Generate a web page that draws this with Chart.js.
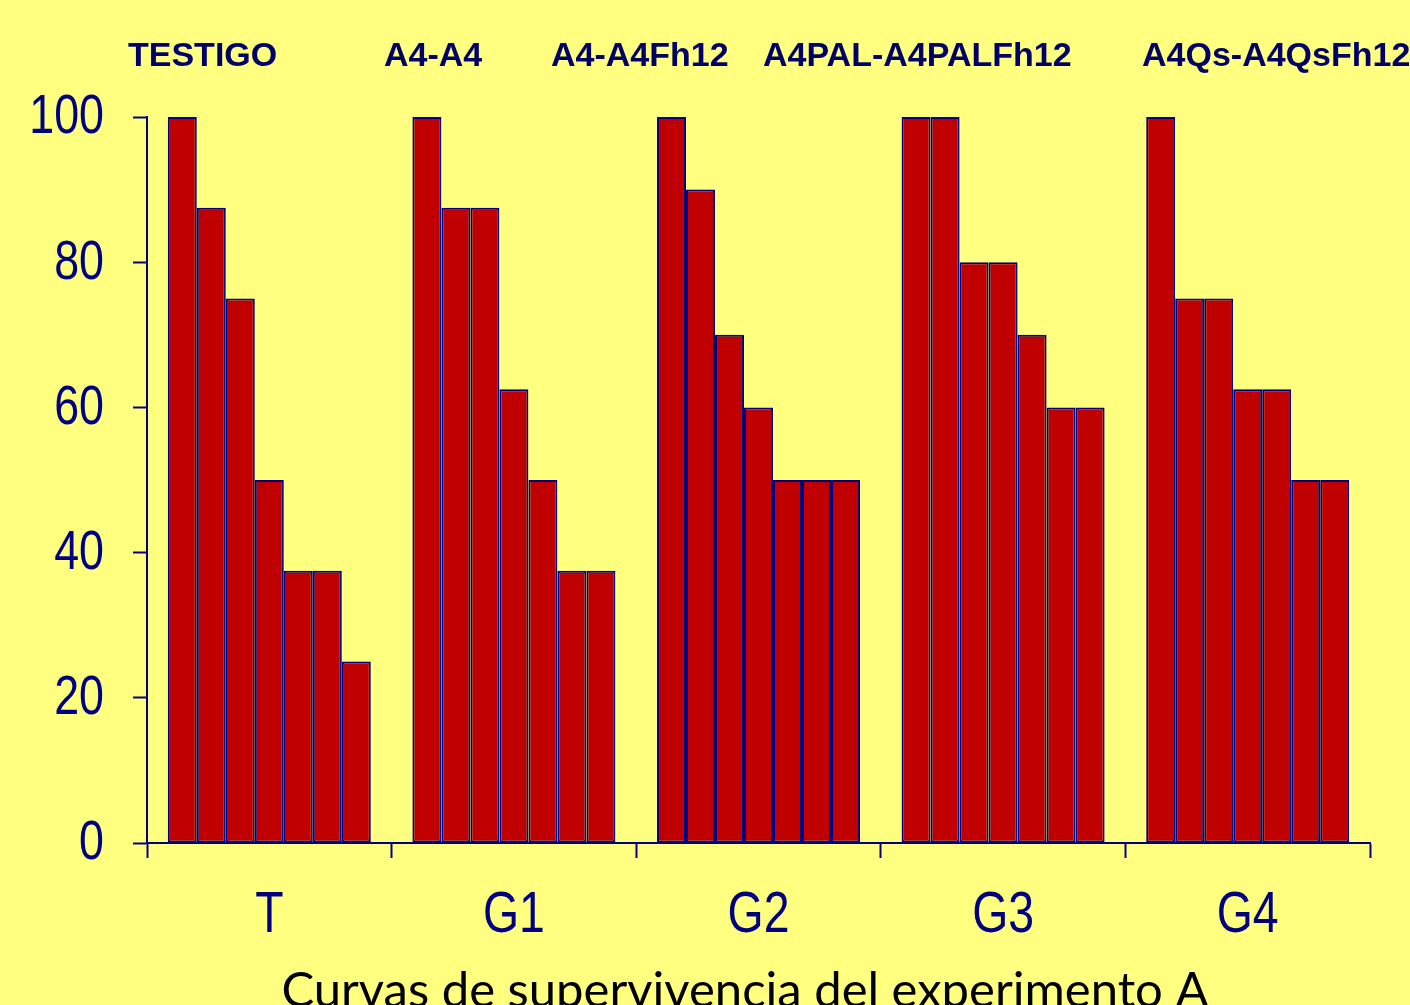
<!DOCTYPE html>
<html>
<head>
<meta charset="utf-8">
<script src="https://cdn.jsdelivr.net/npm/chart.js@4/dist/chart.umd.min.js"></script>
<style>
  html, body { margin: 0; padding: 0; background: #FFFF80; }
  #wrap { width: 1410px; height: 1005px; position: relative; }
</style>
</head>
<body>
<div id="wrap"><canvas id="chart"></canvas></div>
<script>
// groups on the x axis
const groups = ['T', 'G1', 'G2', 'G3', 'G4'];
// survival (%) for the 7 successive bars of each group
const survT  = [100, 87.5, 75, 50, 37.5, 37.5, 25];
const survG1 = [100, 87.5, 87.5, 62.5, 50, 37.5, 37.5];
const survG2 = [100, 90, 70, 60, 50, 50, 50];
const survG3 = [100, 100, 80, 80, 70, 60, 60];
const survG4 = [100, 75, 75, 62.5, 62.5, 50, 50];
const yTicks = [0, 20, 40, 60, 80, 100];
// treatment names above the groups
const treatmentNames = ['TESTIGO', 'A4-A4', 'A4-A4Fh12', 'A4PAL-A4PALFh12', 'A4Qs-A4QsFh12'];
const captionText = 'Curvas de supervivencia del experimento A';

// label placement (pixels), kept apart from the data
const treatmentX = [128, 384, 551, 763, 1142];
const treatmentBaseline = 66;

const navy = '#000080';
const barRed = '#C00000';
const narrow = 0.8; // horizontal squeeze to mimic a narrow sans face

const allGroups = [survT, survG1, survG2, survG3, survG4];
const datasets = [];
for (let i = 0; i < 7; i++) {
    datasets.push({
        label: 'bar ' + (i + 1),
        data: allGroups.map(g => g[i]),
        backgroundColor: barRed,
        borderColor: navy,
        borderWidth: 2,
        borderSkipped: false,
        barPercentage: 1.0,
        categoryPercentage: 0.83,
    });
}

function narrowText(ctx, text, x, y, align) {
    ctx.save();
    ctx.translate(x, y);
    ctx.scale(narrow, 1);
    ctx.textAlign = align;
    ctx.fillText(text, 0, 0);
    ctx.restore();
}

const textPlugin = {
    id: 'textPlugin',
    afterDraw(chart) {
        const ctx = chart.ctx;
        const xs = chart.scales.x;
        const ys = chart.scales.y;
        ctx.save();

        // axis tick labels
        ctx.fillStyle = navy;
        ctx.textBaseline = 'middle';
        ctx.font = '56px "Liberation Sans", Arial, sans-serif';
        yTicks.forEach(v => {
            narrowText(ctx, String(v), 104, ys.getPixelForValue(v) + 1, 'right');
        });
        ctx.font = '58px "Liberation Sans", Arial, sans-serif';
        groups.forEach((g, i) => {
            narrowText(ctx, g, xs.getPixelForValue(i), 916, 'center');
        });

        // treatment names
        ctx.fillStyle = '#000066';
        ctx.font = 'bold 34px "Liberation Sans", Arial, sans-serif';
        ctx.textAlign = 'left';
        ctx.textBaseline = 'alphabetic';
        treatmentNames.forEach((name, i) => {
            ctx.fillText(name, treatmentX[i], treatmentBaseline);
        });

        // caption
        ctx.fillStyle = '#000000';
        ctx.font = '49px Lato, "Open Sans", sans-serif';
        ctx.textAlign = 'center';
        ctx.fillText(captionText, 745, 1007);
        ctx.restore();
    }
};

const ctx = document.getElementById('chart').getContext('2d');
new Chart(ctx, {
    type: 'bar',
    data: {
        labels: groups,
        datasets: datasets,
    },
    options: {
        responsive: true,
        maintainAspectRatio: false,
        animation: false,
        layout: {
            padding: { left: 0, right: 40, top: 117, bottom: 0 },
        },
        plugins: {
            legend: { display: false },
            tooltip: { enabled: false },
        },
        scales: {
            x: {
                grid: {
                    display: true,
                    offset: true,
                    drawOnChartArea: false,
                    drawTicks: true,
                    tickLength: 15,
                    tickWidth: 2,
                    tickColor: navy,
                },
                border: { display: true, color: navy, width: 2 },
                ticks: { display: false },
                afterFit(scale) { scale.height = 162; },
            },
            y: {
                min: 0,
                max: 100,
                afterBuildTicks(scale) { scale.ticks = yTicks.map(v => ({ value: v })); },
                grid: {
                    display: true,
                    drawOnChartArea: false,
                    drawTicks: true,
                    tickLength: 14,
                    tickWidth: 2,
                    tickColor: navy,
                },
                border: { display: true, color: navy, width: 2 },
                ticks: { display: false },
                afterFit(scale) { scale.width = 147; },
            },
        },
    },
    plugins: [textPlugin],
});
</script>
</body>
</html>
